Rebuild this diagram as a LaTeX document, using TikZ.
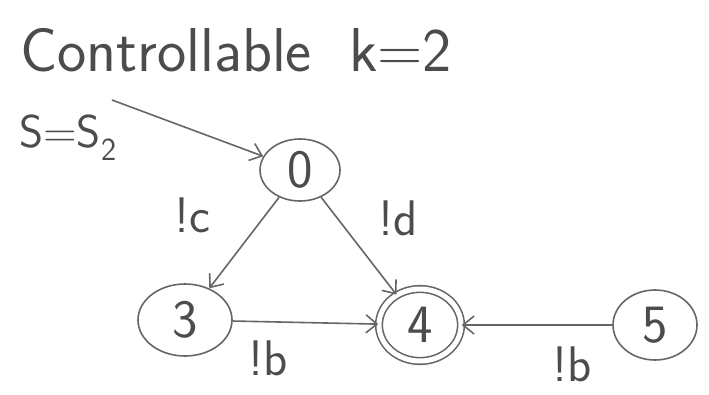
\documentclass[tikz,border=0pt]{standalone}
\usepackage{tikz}
\usetikzlibrary{arrows.meta,shapes.geometric}

\begin{document}
\begin{tikzpicture}[x=1pt,y=-1pt,
	pencil/.style={draw=black!60,line width=1.6pt},
	state/.style={pencil,ellipse,inner sep=0pt,text=black!70,font=\sffamily\fontsize{54}{54}\selectfont},
	accept/.style={state,double,double distance=5pt},
	trans/.style={pencil,-{Straight Barb[length=11pt,width=18pt]}},
	lbl/.style={text=black!70,inner sep=1pt,font=\sffamily\fontsize{50}{50}\selectfont}]
	\useasboundingbox (0,0) rectangle (709,394);
	%\draw[gray] (0,0) grid[step=50] (709,394);
	\node[text=black!70,font=\sffamily\fontsize{62}{62}\selectfont] (title) at (236,50) {Controllable\hspace{0.6em}k=2};
	\node[lbl,font=\sffamily\fontsize{46}{46}\selectfont] (init) at (68,138) {S=S\textsubscript{2}};
	\coordinate (start) at (112,100);
	% states
	\node[state,minimum width=80pt,minimum height=62pt] (s0) at (300,170) {0};
	\node[state,minimum width=94pt,minimum height=72pt] (s3) at (185,320) {3};
	\node[accept,minimum width=82pt,minimum height=72pt] (s4) at (420,325) {4};
	\node[state,minimum width=84pt,minimum height=70pt] (s5) at (655,325) {5};
	% transitions
	\draw[trans] (start) -- (s0);
	\draw[trans] (s0) -- (s3);
	\draw[trans] (s0) -- (s4);
	\draw[trans] (s3) -- (s4);
	\draw[trans] (s5) -- (s4);
	\node[lbl] (lc) at (192,215) {!c};
	\node[lbl] (ld) at (398,218) {!d};
	\node[lbl] (lb1) at (268,358) {!b};
	\node[lbl] (lb2) at (572,364) {!b};
\end{tikzpicture}
\end{document}
